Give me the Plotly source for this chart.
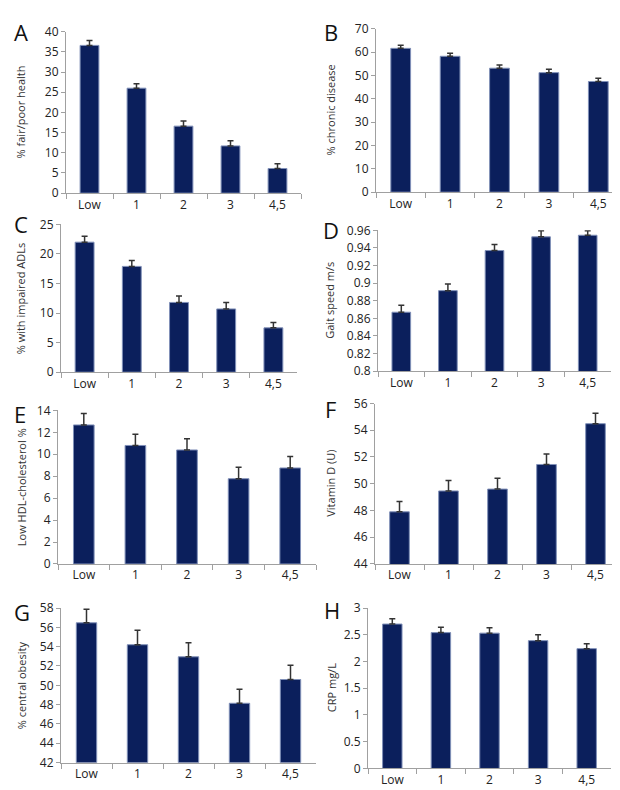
import plotly.graph_objects as go

categories = ["Low", "1", "2", "3", "4,5"]

# Panel values (bar heights) and upper error (SE) magnitudes
a_vals = [36.6, 26.0, 16.6, 11.7, 6.1]
a_err = [1.2, 1.1, 1.3, 1.3, 1.2]
b_vals = [61.6, 58.2, 53.1, 51.2, 47.4]
b_err = [1.3, 1.3, 1.4, 1.4, 1.4]
c_vals = [22.0, 17.9, 11.8, 10.7, 7.5]
c_err = [1.0, 1.0, 1.1, 1.1, 0.9]
d_vals = [0.867, 0.8915, 0.937, 0.9526, 0.9544]
d_err = [0.008, 0.0075, 0.007, 0.007, 0.005]
e_vals = [12.67, 10.8, 10.39, 7.77, 8.75]
e_err = [1.04, 1.02, 1.02, 1.04, 1.04]
f_vals = [47.9, 49.46, 49.6, 51.44, 54.49]
f_err = [0.78, 0.78, 0.81, 0.78, 0.78]
g_vals = [56.47, 54.2, 52.95, 48.14, 50.6]
g_err = [1.39, 1.5, 1.45, 1.46, 1.47]
h_vals = [2.70, 2.54, 2.53, 2.39, 2.24]
h_err = [0.10, 0.10, 0.10, 0.11, 0.09]

y_titles = ["% fair/poor health", "% chronic disease", "% with impaired ADLs",
            "Gait speed m/s", "Low HDL-cholesterol %", "Vitamin D (U)",
            "% central obesity", "CRP mg/L"]
letters = ["A", "B", "C", "D", "E", "F", "G", "H"]
y_ranges = [[0, 40], [0, 70], [0, 25], [0.8, 0.96], [0, 14], [44, 56], [42, 58], [0, 3]]
y_dticks = [5, 10, 5, 0.02, 2, 2, 2, 0.5]

values = [a_vals, b_vals, c_vals, d_vals, e_vals, f_vals, g_vals, h_vals]
errors = [a_err, b_err, c_err, d_err, e_err, f_err, g_err, h_err]

W, H = 620, 790
# plot areas in pixels: (x0, x1, ytop, ybottom)
boxes = [(58, 293, 15, 180), (368, 615, 12, 179),
         (53, 289, 212, 363), (370, 603, 218, 362),
         (50, 308, 402, 559), (367, 612, 395, 559),
         (53, 308, 604, 762), (360, 603, 604, 768)]
letter_pos = [(13, 15), (323, 15), (13, 212), (323, 218),
              (12, 406), (322, 401), (14, 608), (324, 606)]
title_x = [12, 322, 12, 322, 13, 323, 13, 323]

BAR = "#0b1f5c"
AXC = "#a0a0a0"
FONT = "Open Sans, Liberation Sans, Arial, sans-serif"

fig = go.Figure()
layout = dict(width=W, height=H, paper_bgcolor="white", plot_bgcolor="white",
              margin=dict(l=0, r=0, t=0, b=0), showlegend=False,
              font=dict(family=FONT, size=12, color="#222222"))
annotations = []
for i in range(8):
    n = "" if i == 0 else str(i + 1)
    fig.add_trace(go.Bar(
        x=categories, y=values[i], xaxis="x" + n, yaxis="y" + n,
        marker=dict(color=BAR, line=dict(color="#8090b8", width=1)),
        width=0.4,
        error_y=dict(type="data", array=errors[i], arrayminus=[0] * 5,
                     symmetric=False, color="#333333", thickness=1.5, width=3),
    ))
    x0, x1, yt, yb = boxes[i]
    layout["xaxis" + n] = dict(
        domain=[x0 / W, x1 / W], anchor="y" + n, type="category",
        showline=True, linecolor=AXC, linewidth=1,
        ticks="outside", tickson="boundaries", ticklen=5, tickcolor=AXC,
        showgrid=False, tickfont=dict(size=12, color="#222"), range=[-0.5, 4.5])
    layout["yaxis" + n] = dict(
        domain=[1 - yb / H, 1 - yt / H], anchor="x" + n,
        range=y_ranges[i], dtick=y_dticks[i], showline=True, linecolor=AXC,
        linewidth=1, ticks="outside", ticklen=4, tickcolor=AXC, showgrid=False,
        zeroline=False, tickfont=dict(size=12, color="#222"))
    annotations.append(dict(text=y_titles[i], x=title_x[i] / W,
                            y=1 - (yt + yb) / 2 / H, xref="paper", yref="paper",
                            showarrow=False, textangle=-90,
                            font=dict(size=11, color="#333"),
                            xanchor="center", yanchor="middle"))
    lx, ly = letter_pos[i]
    annotations.append(dict(text=letters[i], x=lx / W, y=1 - ly / H, xref="paper",
                            yref="paper", showarrow=False,
                            font=dict(size=22, color="#111", family=FONT),
                            xanchor="center", yanchor="middle"))
layout["annotations"] = annotations
fig.update_layout(**layout)
fig.write_html("out.html")
